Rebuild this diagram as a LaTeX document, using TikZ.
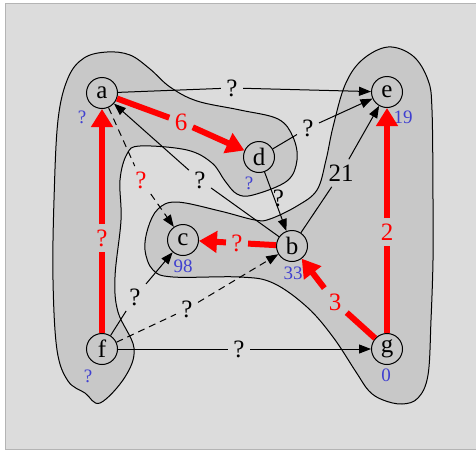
\documentclass[tikz,border=0pt]{standalone}
\usepackage{fontspec}
\setmainfont{Liberation Serif}
\usetikzlibrary{arrows.meta}
\definecolor{bggray}{HTML}{DCDCDC}
\definecolor{clgray}{HTML}{C8C8C8}
\definecolor{rimgray}{HTML}{B4B4B4}
\definecolor{wblue}{HTML}{4040D0}

\begin{document}
\begin{tikzpicture}[x=1pt,y=-1pt,line width=1pt,
    vertex/.style={draw,circle,minimum size=31pt,inner sep=0pt,font=\fontsize{25}{25}\selectfont},
    lab/.style={inner sep=5pt,font=\fontsize{25}{25}\selectfont},
    redlab/.style={lab,text=red},
    weight/.style={inner sep=0pt,text=wblue,font=\fontsize{19}{19}\selectfont},
    plainedge/.style={-{Triangle[length=12pt,width=9pt]}},
    dashedge/.style={plainedge,dash pattern=on 7pt off 5pt},
    heavy/.style={red,line width=6pt},
    heavyedge/.style={heavy,-{Triangle[length=18pt,width=21pt]}},
    cluster/.style={draw,fill=clgray}]
            \useasboundingbox (0,0) rectangle (476,450);
            \filldraw[fill=bggray,draw=rimgray] (5,3) rectangle (478,449);

            % clusters
            \draw[cluster] plot[smooth cycle,tension=0.6] coordinates {(107,52) (130,55) (150,69) (170,87) (197,101) (240,110) (278,119) (293,137) (297,160) (287,181) (253,195) (237,194) (225,181) (212,163) (187,150) (140,146) (127,154) (120,180) (121,220) (115,277) (118,312) (134,348) (125,377) (100,403) (85,393) (68,381) (57,350) (53,280) (54,200) (58,120) (68,78) (84,58)};
            \draw[cluster] plot[smooth cycle,tension=0.6] coordinates {(388,47) (413,56) (428,80) (432,110) (433,200) (433,260) (431,320) (428,375) (418,398) (402,404) (383,400) (369,391) (356,372) (333,337) (307,307) (273,283) (240,277) (173,277) (153,270) (145,250) (148,228) (158,209) (177,202) (220,211) (255,220) (270,219) (297,206) (317,190) (326,160) (333,127) (345,85) (362,60)};

            % vertices
            \node[vertex] (a) at (102,93) {a};
            \node[vertex] (e) at (387,92) {e};
            \node[vertex] (d) at (259,157) {d};
            \node[vertex] (c) at (183,240) {c};
            \node[vertex] (b) at (292,246) {b};
            \node[vertex] (f) at (102,349) {f};
            \node[vertex] (g) at (387,349) {g};

            % weights
            \node[weight] (wa) at (82,117) {?};
            \node[weight] (wd) at (249,183) {?};
            \node[weight] (we) at (403,117) {19};
            \node[weight] (wc) at (183,266) {98};
            \node[weight] (wb) at (293,273) {33};
            \node[weight] (wf) at (88,376) {?};
            \node[weight] (wg) at (386,375) {0};

            % edge labels
            \node[lab] (lae) at (232,88) {?};
            \node[redlab] (lad) at (181,122) {6};
            \node[lab] (lde) at (308,128) {?};
            \node[lab] (lbe) at (341,173) {21};
            \node[lab] (lba) at (200,180) {?};
            \node[redlab] (lac) at (141,180) {?};
            \node[redlab] (lbc) at (237,243) {?};
            \node[redlab] (lfa) at (102,238) {?};
            \node[redlab] (lge) at (387,232) {2};
            \node[redlab] (lgb) at (335,302) {3};
            \node[lab] (lfc) at (135,297) {?};
            \node[lab] (lfb) at (187,309) {?};
            \node[lab] (lfg) at (239,349) {?};

            % edges
            \draw (a)--(lae);
            \draw[plainedge] (lae)--(e);
            \draw (d)--(lde);
            \draw[plainedge] (lde)--(e);
            \draw (b)--(lbe);
            \draw[plainedge] (lbe)--(e);
            \draw[plainedge] (d)-- node[lab,inner sep=0pt,pos=0.45,xshift=4pt] (ldb) {?} (b);
            \draw (b)--(lba);
            \draw[plainedge] (lba)--(a);
            \draw[dash pattern=on 7pt off 5pt] (a)--(lac);
            \draw[dashedge] (lac)--(c);
            \draw (f)--(lfc);
            \draw[plainedge] (lfc)--(c);
            \draw[dash pattern=on 7pt off 5pt] (f)--(lfb);
            \draw[dashedge] (lfb)--(b);
            \draw (f)--(lfg);
            \draw[plainedge] (lfg)--(g);

            \draw[heavy] (a)--(lad);
            \draw[heavyedge] (lad)--(d);
            \draw[heavy] (b)--(lbc);
            \draw[heavyedge] (lbc)--(c);
            \draw[heavy] (f)--(lfa);
            \draw[heavyedge] (lfa)--(a);
            \draw[heavy] (g)--(lge);
            \draw[heavyedge] (lge)--(e);
            \draw[heavy] (g)--(lgb);
            \draw[heavyedge] (lgb)--(b);
        \end{tikzpicture}
\end{document}
